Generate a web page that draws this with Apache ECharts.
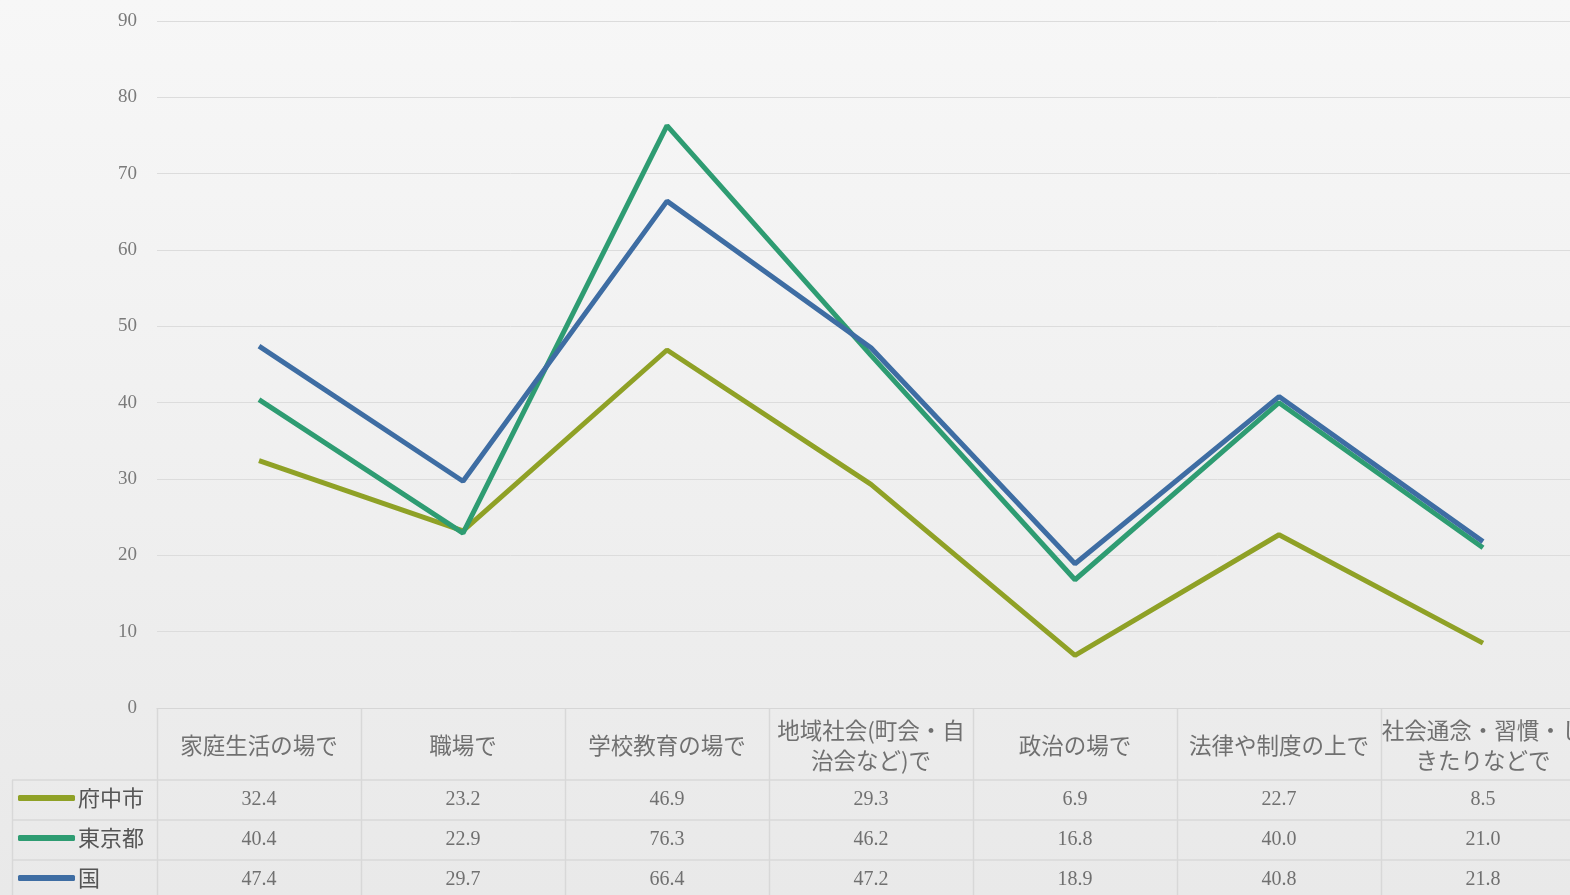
<!DOCTYPE html>
<html>
<head>
<meta charset="utf-8">
<script src="https://cdn.jsdelivr.net/npm/echarts@6/dist/echarts.min.js"></script>
<style>
html,body{margin:0;padding:0;}
#main{width:1570px;height:895px;}
</style>
</head>
<body>
<div id="main"></div>
<script>
const categories = ['家庭生活の場で','職場で','学校教育の場で','地域社会(町会・自\n治会など)で','政治の場で','法律や制度の上で','社会通念・習慣・し\nきたりなどで'];
const seriesNames = ['府中市','東京都','国'];
const fuchu = [32.4, 23.2, 46.9, 29.3, 6.9, 22.7, 8.5];
const tokyo = [40.4, 22.9, 76.3, 46.2, 16.8, 40.0, 21.0];
const kuni = [47.4, 29.7, 66.4, 47.2, 18.9, 40.8, 21.8];
const yTicks = [0, 10, 20, 30, 40, 50, 60, 70, 80, 90];

const colors = ['#8fa126', '#2e9c72', '#3e6da3'];
const rows = [fuchu, tokyo, kuni];
const numFont = '"Liberation Serif","DejaVu Serif",serif';
const jpFont = '"Noto Sans CJK JP","Noto Sans",sans-serif';

const chart = echarts.init(document.getElementById('main'));

const rowAxes = rows.map((r, i) => ({
  type: 'category',
  gridIndex: 0,
  position: 'bottom',
  offset: 82 + i * 40,
  data: r.map(v => v.toFixed(1)),
  boundaryGap: true,
  axisLine: {show: false},
  axisTick: {show: false},
  splitLine: {show: false},
  axisLabel: {interval: 0, margin: 0, fontSize: 20, color: '#707070', fontFamily: numFont}
}));

const option = {
  backgroundColor: {
    type: 'linear', x: 0, y: 0, x2: 0, y2: 1,
    colorStops: [{offset: 0, color: '#f7f7f7'}, {offset: 1, color: '#e9e9e9'}]
  },
  animation: false,
  grid: {left: 157, width: 1428, top: 21, bottom: 187, containLabel: false, outerBoundsMode: 'none'},
  legend: seriesNames.map((n, i) => ({
    data: [{name: n, icon: 'roundRect'}],
    left: 18,
    top: 787 + i * 40,
    padding: 0,
    itemWidth: 57,
    itemHeight: 6,
    itemGap: 2,
    textStyle: {fontSize: 22, color: '#555', fontFamily: jpFont, padding: [0, 0, 0, -2]},
    selectedMode: false
  })),
  xAxis: [{
    type: 'category',
    data: categories,
    boundaryGap: true,
    axisLine: {show: true, lineStyle: {color: '#d6d6d6', width: 1}},
    axisTick: {show: false},
    splitLine: {show: false},
    axisLabel: {interval: 0, margin: 37, verticalAlign: 'middle', fontSize: 22.5, lineHeight: 30, color: '#707070', fontFamily: jpFont}
  }].concat(rowAxes),
  yAxis: {
    type: 'value',
    min: 0, max: 90, interval: 10,
    axisLine: {show: false},
    axisTick: {show: false},
    splitLine: {lineStyle: {color: '#dcdcdc', width: 1}},
    axisLabel: {margin: 20, fontSize: 19, color: '#7a7a7a', fontFamily: numFont,
      formatter: v => yTicks.includes(v) ? String(v) : ''}
  },
  series: rows.map((r, i) => ({
    name: seriesNames[i],
    type: 'line',
    data: r,
    symbol: 'none',
    lineStyle: {width: 5, color: colors[i]},
    itemStyle: {color: colors[i]},
    z: 3 + i
  }))
};

chart.setOption(option);

// table borders from category positions
const c0 = chart.convertToPixel({xAxisIndex: 0}, 0);
const c1 = chart.convertToPixel({xAxisIndex: 0}, 1);
const bw = c1 - c0;
const y0 = chart.convertToPixel({yAxisIndex: 0}, 0);
const lineColor = '#d8d8d8';
const graphics = [];
for (let i = 0; i <= categories.length; i++) {
  const x = Math.round(c0 - bw / 2 + i * bw) + 0.5;
  graphics.push({type: 'line', shape: {x1: x, y1: y0, x2: x, y2: 895}, style: {stroke: lineColor, lineWidth: 1.5}, silent: true});
}
const rowTops = [y0 + 72, y0 + 112, y0 + 152];
rowTops.forEach(y => {
  graphics.push({type: 'line', shape: {x1: 12, y1: y, x2: 1570, y2: y}, style: {stroke: lineColor, lineWidth: 1.5}, silent: true});
});
graphics.push({type: 'line', shape: {x1: 12.5, y1: rowTops[0], x2: 12.5, y2: 895}, style: {stroke: lineColor, lineWidth: 1.5}, silent: true});
chart.setOption({graphic: graphics});
</script>
</body>
</html>
